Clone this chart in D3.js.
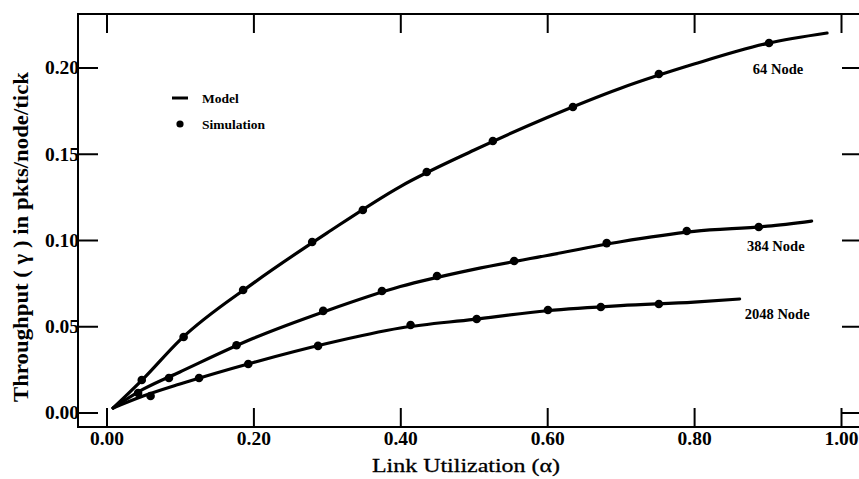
<!DOCTYPE html>
<html>
<head>
<meta charset="utf-8">
<script src="https://cdn.jsdelivr.net/npm/d3@7/dist/d3.min.js"></script>
<style>
  html, body { margin: 0; padding: 0; background: #fff; }
  svg { display: block; }
  text { font-family: "Liberation Serif", "DejaVu Serif", serif; fill: #000; }
</style>
</head>
<body>
<svg id="chart" width="859" height="479"></svg>
<script>
// Throughput vs. link utilization for three network sizes

const seriesNames = ["64 Node", "384 Node", "2048 Node"];

// Analytical model curves (alpha, gamma)
const modelAlpha64   = [0.009, 0.05, 0.10, 0.20, 0.30, 0.40, 0.50, 0.60, 0.70, 0.80, 0.90, 0.981];
const modelGamma64   = [0.0026, 0.0195, 0.042, 0.075, 0.104, 0.131, 0.152, 0.171, 0.188, 0.202, 0.214, 0.220];
const modelAlpha384  = [0.009, 0.05, 0.10, 0.20, 0.30, 0.40, 0.50, 0.60, 0.70, 0.80, 0.90, 0.960];
const modelGamma384  = [0.0026, 0.0135, 0.0235, 0.043, 0.059, 0.073, 0.083, 0.091, 0.099, 0.105, 0.108, 0.111];
const modelAlpha2048 = [0.009, 0.05, 0.10, 0.20, 0.30, 0.40, 0.50, 0.60, 0.70, 0.80, 0.862];
const modelGamma2048 = [0.0026, 0.0095, 0.0165, 0.029, 0.040, 0.049, 0.054, 0.059, 0.062, 0.064, 0.0658];

// Simulation results (alpha, gamma)
const simAlpha64   = [0.048, 0.105, 0.186, 0.280, 0.349, 0.436, 0.526, 0.635, 0.752, 0.902];
const simGamma64   = [0.0188, 0.0438, 0.071, 0.0988, 0.1174, 0.1394, 0.1574, 0.1771, 0.1962, 0.2142];
const simAlpha384  = [0.043, 0.085, 0.177, 0.295, 0.375, 0.450, 0.555, 0.681, 0.790, 0.888];
const simGamma384  = [0.0113, 0.020, 0.039, 0.0589, 0.0704, 0.0791, 0.0878, 0.0982, 0.1052, 0.1075];
const simAlpha2048 = [0.060, 0.126, 0.193, 0.288, 0.414, 0.504, 0.601, 0.673, 0.752];
const simGamma2048 = [0.0096, 0.020, 0.0281, 0.0386, 0.0507, 0.0542, 0.0594, 0.0612, 0.0629];

const xTicks = [0, 0.2, 0.4, 0.6, 0.8, 1.0];
const yTicks = [0, 0.05, 0.10, 0.15, 0.20];

const legendLabels = ["Model", "Simulation"];
const xTitle = "Link Utilization (\u03b1)";
const yTitle = "Throughput ( \u03b3 ) in pkts/node/tick";

// ---- layout ----
const svg = d3.select("#chart");
const frame = { left: 78, top: 14, right: 863, bottom: 427 };

const x = d3.scaleLinear().domain([0, 1]).range([106.5, 841]);
const y = d3.scaleLinear().domain([0, 0.2]).range([412.5, 67.5]);

const fmt = d3.format(".2f");

// frame
const fr = svg.append("g").attr("stroke", "#000").attr("stroke-width", 2).attr("fill", "none");
fr.append("line").attr("x1", frame.left).attr("x2", frame.left).attr("y1", frame.top - 1).attr("y2", frame.bottom + 1);
fr.append("line").attr("x1", frame.left).attr("x2", frame.right).attr("y1", frame.bottom).attr("y2", frame.bottom);
fr.append("line").attr("x1", frame.left).attr("x2", frame.right).attr("y1", frame.top).attr("y2", frame.top);
fr.append("line").attr("x1", frame.right).attr("x2", frame.right).attr("y1", frame.top).attr("y2", frame.bottom);

function styleAxis(g) {
  g.select(".domain").remove();
  g.selectAll(".tick line").attr("stroke", "#000").attr("stroke-width", 2);
  g.selectAll(".tick text")
    .style("font-family", "'Liberation Serif', serif")
    .style("font-weight", "bold")
    .style("font-size", "19.5px")
    .attr("fill", "#000");
}

// bottom axis: inward ticks, labelled
svg.append("g")
  .attr("transform", `translate(0,${frame.bottom})`)
  .call(d3.axisBottom(x).tickValues(xTicks).tickFormat(fmt).tickSizeInner(-19).tickSizeOuter(0).tickPadding(4))
  .call(styleAxis);

// top axis: inward ticks only
svg.append("g")
  .attr("transform", `translate(0,${frame.top})`)
  .call(d3.axisTop(x).tickValues(xTicks).tickFormat("").tickSizeInner(-19).tickSizeOuter(0))
  .call(styleAxis);

// left axis: inward ticks, labelled
svg.append("g")
  .attr("transform", `translate(${frame.left},0)`)
  .call(d3.axisLeft(y).tickValues(yTicks).tickFormat(fmt).tickSizeInner(-20).tickSizeOuter(0).tickPadding(-1))
  .call(styleAxis);

// right axis: inward ticks only
svg.append("g")
  .attr("transform", `translate(${frame.right},0)`)
  .call(d3.axisRight(y).tickValues(yTicks).tickFormat("").tickSizeInner(-21).tickSizeOuter(0))
  .call(styleAxis);

// axis titles (wide serif setting)
svg.append("text")
  .attr("x", 466).attr("y", 472)
  .attr("text-anchor", "middle")
  .attr("textLength", 188)
  .attr("lengthAdjust", "spacingAndGlyphs")
  .style("font-size", "19.5px")
  .style("stroke", "#000")
  .style("stroke-width", 0.3)
  .text(xTitle);

svg.append("text")
  .attr("transform", "translate(28,237) rotate(-90)")
  .attr("text-anchor", "middle")
  .attr("textLength", 330)
  .attr("lengthAdjust", "spacingAndGlyphs")
  .style("font-size", "20px")
  .style("font-weight", "bold")
  .text(yTitle);

// model curves and simulation points
const models = [
  d3.zip(modelAlpha64, modelGamma64),
  d3.zip(modelAlpha384, modelGamma384),
  d3.zip(modelAlpha2048, modelGamma2048)
];
const sims = [
  d3.zip(simAlpha64, simGamma64),
  d3.zip(simAlpha384, simGamma384),
  d3.zip(simAlpha2048, simGamma2048)
];

const line = d3.line()
  .x(d => x(d[0]))
  .y(d => y(d[1]))
  .curve(d3.curveMonotoneX);

svg.append("g").selectAll("path")
  .data(models)
  .join("path")
  .attr("d", line)
  .attr("fill", "none")
  .attr("stroke", "#000")
  .attr("stroke-width", 3.2)
  .attr("stroke-linecap", "round");

svg.append("g").selectAll("circle")
  .data(sims.flat())
  .join("circle")
  .attr("cx", d => x(d[0]))
  .attr("cy", d => y(d[1]))
  .attr("r", 4.3)
  .attr("fill", "#000");

// series labels, anchored in data space
const labelAnchors = [[0.880, 0.199], [0.872, 0.0965], [0.869, 0.0571]];
svg.append("g").selectAll("text")
  .data(seriesNames)
  .join("text")
  .attr("x", (d, i) => x(labelAnchors[i][0]))
  .attr("y", (d, i) => y(labelAnchors[i][1]))
  .attr("dy", "0.35em")
  .style("font-size", "14.5px")
  .style("font-weight", "bold")
  .text(d => d);

// legend
const lg = svg.append("g");
lg.append("line")
  .attr("x1", 172).attr("x2", 188).attr("y1", 98).attr("y2", 98)
  .attr("stroke", "#000").attr("stroke-width", 3);
lg.append("circle").attr("cx", 180).attr("cy", 124).attr("r", 3.6).attr("fill", "#000");
lg.selectAll("text")
  .data(legendLabels)
  .join("text")
  .attr("x", 202)
  .attr("y", (d, i) => 98 + i * 26)
  .attr("dy", "0.35em")
  .style("font-size", "13.5px")
  .style("font-weight", "bold")
  .text(d => d);
</script>
</body>
</html>
